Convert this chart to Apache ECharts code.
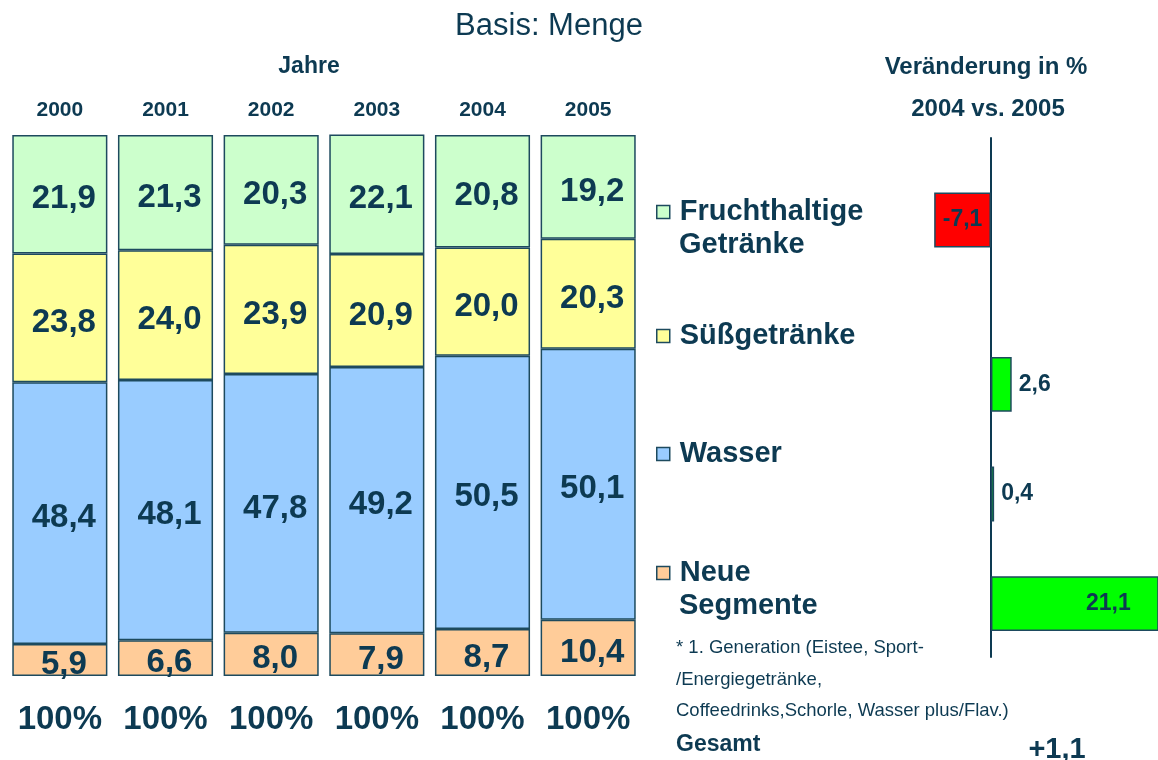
<!DOCTYPE html>
<html>
<head>
<meta charset="utf-8">
<script src="https://cdn.jsdelivr.net/npm/echarts@6/dist/echarts.min.js"></script>
<style>
  html, body { margin: 0; padding: 0; background: #fff; }
  #chart { width: 1158px; height: 760px; }
</style>
</head>
<body>
<div id="chart"></div>
<script>
// Anteile je Jahr (Basis: Menge), in %
var years = ['2000', '2001', '2002', '2003', '2004', '2005']
var totalLabels = ['100%', '100%', '100%', '100%', '100%', '100%']
var segmentNames = ['Neue Segmente', 'Wasser', 'Süßgetränke', 'Fruchthaltige Getränke']
var neueSegmente = [5.9, 6.6, 8.0, 7.9, 8.7, 10.4]
var wasser = [48.4, 48.1, 47.8, 49.2, 50.5, 50.1]
var suessgetraenke = [23.8, 24.0, 23.9, 20.9, 20.0, 20.3]
var fruchthaltige = [21.9, 21.3, 20.3, 22.1, 20.8, 19.2]

// Veränderung in % 2004 vs. 2005
var changeNames = ['Fruchthaltige Getränke', 'Süßgetränke', 'Wasser', 'Neue Segmente']
var changeValues = [-7.1, 2.6, 0.4, 21.1]
var totalChange = 1.1

var textColor = '#0d3a52'
var borderColor = '#1d4a5e'
var font = 'Liberation Sans, Arial, sans-serif'
var segColors = ['#ffcc99', '#99ccff', '#ffff99', '#ccffcc']
var segData = [neueSegmente, wasser, suessgetraenke, fruchthaltige]

function fmt(v) {
  return v.toFixed(1).replace('.', ',')
}

var chart = echarts.init(document.getElementById('chart'))

// stacked columns
var stackSeries = segData.map(function(values, i) {
  return {
    name: segmentNames[i],
    type: 'bar',
    stack: 'anteil',
    xAxisIndex: 0,
    yAxisIndex: 0,
    barCategoryGap: '10%',
    data: values,
    itemStyle: { color: segColors[i], borderColor: borderColor, borderWidth: 1.5 },
    label: {
      show: true,
      position: 'inside',
      offset: [4, 5],
      color: textColor,
      fontFamily: font,
      fontWeight: 'bold',
      fontSize: 33,
      formatter: function(p) { return fmt(p.value) }
    }
  }
})

// right side: categories spread over slots (empty slots before each one)
var gapBefore = [1, 2, 1, 1]
var changeSlots = []
var changeData = []
changeNames.forEach(function(name, i) {
  for (var g = 0; g < gapBefore[i]; g++) {
    changeSlots.push(' '.repeat(changeSlots.length + 1))
    changeData.push(null)
  }
  changeSlots.push(name)
  var v = changeValues[i]
  var label
  if (v < 0) {
    label = { position: 'inside' }
  } else if (v > 10) {
    label = { position: 'insideRight', distance: 28 }
  } else {
    label = { position: 'right', distance: 7 }
  }
  changeData.push({
    value: v,
    itemStyle: { color: v < 0 ? '#ff0000' : '#00ff00' },
    label: label
  })
})

var legends = segmentNames.slice().reverse().map(function(name, i) {
  var tops = [195, 319, 437, 556]
  return {
    data: [name],
    left: 656,
    top: tops[i],
    padding: 0,
    icon: 'rect',
    itemWidth: 13,
    itemHeight: 13,
    selectedMode: false,
    itemStyle: { borderColor: borderColor, borderWidth: 1.5 },
    formatter: function(n) { return n.split(' ')[0] },
    textStyle: {
      color: textColor,
      fontFamily: font,
      fontWeight: 'bold',
      fontSize: 29,
      lineHeight: 34,
      padding: [0, 0, 0, 5]
    }
  }
})

function txt(text, left, top, size, weight, align) {
  return {
    text: text,
    left: left,
    top: top,
    padding: 0,
    textAlign: align || 'left',
    textStyle: {
      color: textColor,
      fontFamily: font,
      fontSize: size,
      fontWeight: weight
    }
  }
}

chart.setOption({
  animation: false,
  title: [
    txt('Basis: Menge', 549, 11, 31, 'normal', 'center'),
    txt('Jahre', 309, 55, 23, 'bold', 'center'),
    txt('Veränderung in %', 986, 55, 24, 'bold', 'center'),
    txt('2004 vs. 2005', 988, 97, 24, 'bold', 'center'),
    txt('Getränke', 679, 230, 29, 'bold'),
    txt('Segmente', 679, 591, 29, 'bold'),
    txt('* 1. Generation (Eistee, Sport-', 676, 638, 18.5, 'normal'),
    txt('/Energiegetränke,', 676, 670, 18.5, 'normal'),
    txt('Coffeedrinks,Schorle, Wasser plus/Flav.)', 676, 701, 18.5, 'normal'),
    txt('Gesamt', 676, 733, 23, 'bold'),
    txt('+' + fmt(totalChange), 1057, 735, 29, 'bold', 'center')
  ],
  legend: legends,
  grid: [
    { left: 7, right: 517, top: 135, bottom: 84 },
    { left: 911, right: 0, top: 137.8, height: 493.2 },
    { left: 911, right: 0, top: 138, bottom: 103 }
  ],
  xAxis: [
    {
      type: 'category', gridIndex: 0, position: 'top', data: years,
      axisLine: { show: false }, axisTick: { show: false },
      axisLabel: { interval: 0, color: textColor, fontFamily: font, fontWeight: 'bold', fontSize: 21, margin: 14 }
    },
    {
      type: 'category', gridIndex: 0, position: 'bottom', data: totalLabels,
      axisLine: { show: false }, axisTick: { show: false },
      axisLabel: { interval: 0, color: textColor, fontFamily: font, fontWeight: 'bold', fontSize: 33, margin: 27 }
    },
    {
      type: 'value', gridIndex: 1, min: -10, max: 20.9,
      axisLine: { show: false }, axisTick: { show: false }, axisLabel: { show: false }, splitLine: { show: false }
    },
    {
      type: 'value', gridIndex: 2, min: -10, max: 20.9,
      axisLine: { show: false }, axisTick: { show: false }, axisLabel: { show: false }, splitLine: { show: false }
    }
  ],
  yAxis: [
    { type: 'value', gridIndex: 0, min: 0, max: 100, show: false },
    {
      type: 'category', gridIndex: 1, inverse: true, data: changeSlots,
      axisLine: { show: false }, axisTick: { show: false }, axisLabel: { show: false }
    },
    {
      type: 'category', gridIndex: 2, data: [''],
      axisLine: { show: true, onZero: true, lineStyle: { color: textColor, width: 2 } },
      axisTick: { show: false }, axisLabel: { show: false }
    }
  ],
  series: stackSeries.concat([
    {
      name: 'Veränderung',
      type: 'bar',
      xAxisIndex: 2,
      yAxisIndex: 1,
      barCategoryGap: '0%',
      data: changeData,
      itemStyle: { borderColor: borderColor, borderWidth: 1.5 },
      label: {
        show: true,
        color: textColor,
        fontFamily: font,
        fontWeight: 'bold',
        fontSize: 23,
        formatter: function(p) { return fmt(p.value) }
      },
      z: 1
    }
  ])
})
</script>
</body>
</html>
